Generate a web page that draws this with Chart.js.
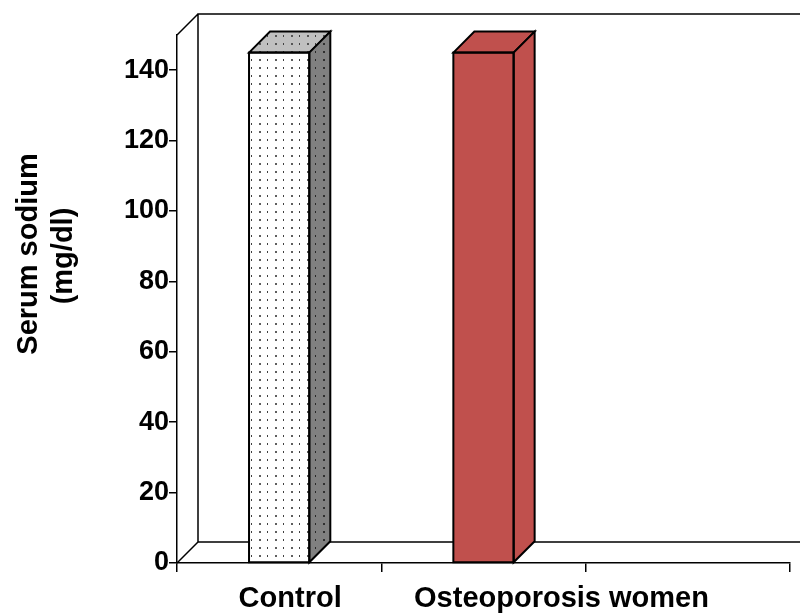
<!DOCTYPE html>
<html>
<head>
<meta charset="utf-8">
<script src="https://cdn.jsdelivr.net/npm/chart.js@4.4.1/dist/chart.umd.min.js"></script>
<style>
  html, body { margin: 0; padding: 0; background: #fff; }
  #wrap { width: 800px; height: 615px; position: relative; }
</style>
</head>
<body>
<div id="wrap"><canvas id="c" width="800" height="615"></canvas></div>
<script>
// Serum sodium by group
const categories = ['Control', 'Osteoporosis women', ''];
const sodiumValues = [145, 145, null];
const yTickValues = [0, 20, 40, 60, 80, 100, 120, 140];
const yAxisTitle = ['Serum sodium', '(mg/dl)'];

const FONT = '"Liberation Sans", Arial, sans-serif';
const DEPTH = 21;          // 3D depth offset in px
const LINE = 1.5;
const BAR_LINE = 2;

// dotted fill tiles
function dotPattern(bg, dotA, dotB) {
  const t = document.createElement('canvas');
  t.width = 16; t.height = 8;
  const g = t.getContext('2d');
  g.fillStyle = bg; g.fillRect(0, 0, 16, 8);
  g.fillStyle = dotA; g.fillRect(3, 3, 2, 2);
  g.fillStyle = dotB; g.fillRect(11, 3, 1, 2);
  return document.getElementById('c').getContext('2d').createPattern(t, 'repeat');
}
const frontFill = [dotPattern('#ffffff', '#5e5e5e', '#404040'), '#C0504D'];
const topFill   = [dotPattern('#c0c0c0', '#555555', '#404040'), '#C0504D'];
const sideFill  = [dotPattern('#808080', '#303030', '#282828'), '#C0504D'];

const labelShift = [11, 78];   // x-label offsets from category centre

const box3d = {
  id: 'box3d',
  beforeDatasetsDraw(chart) {
    const { ctx, chartArea: a } = chart;
    ctx.save();
    ctx.strokeStyle = '#000';
    ctx.lineWidth = LINE;
    ctx.beginPath();
    // back wall
    ctx.moveTo(a.left + DEPTH, a.bottom - DEPTH);
    ctx.lineTo(a.left + DEPTH, a.top - DEPTH);
    ctx.lineTo(a.right + DEPTH, a.top - DEPTH);
    // floor back edge
    ctx.moveTo(a.left + DEPTH, a.bottom - DEPTH);
    ctx.lineTo(a.right + DEPTH, a.bottom - DEPTH);
    // side wall / floor diagonals
    ctx.moveTo(a.left, a.top);
    ctx.lineTo(a.left + DEPTH, a.top - DEPTH);
    ctx.moveTo(a.left, a.bottom);
    ctx.lineTo(a.left + DEPTH, a.bottom - DEPTH);
    ctx.stroke();
    ctx.restore();
  },
  afterDatasetsDraw(chart) {
    const { ctx } = chart;
    const meta = chart.getDatasetMeta(0);
    ctx.save();
    ctx.strokeStyle = '#000';
    ctx.lineWidth = BAR_LINE;
    ctx.lineJoin = 'miter';
    meta.data.forEach((el, i) => {
      if (sodiumValues[i] == null) return;
      const { x, y, base, width } = el.getProps(['x', 'y', 'base', 'width'], true);
      const l = x - width / 2, r = x + width / 2;
      // top face
      ctx.beginPath();
      ctx.moveTo(l, y);
      ctx.lineTo(l + DEPTH, y - DEPTH);
      ctx.lineTo(r + DEPTH, y - DEPTH);
      ctx.lineTo(r, y);
      ctx.closePath();
      ctx.fillStyle = topFill[i];
      ctx.fill();
      ctx.stroke();
      // side face
      ctx.beginPath();
      ctx.moveTo(r, y);
      ctx.lineTo(r + DEPTH, y - DEPTH);
      ctx.lineTo(r + DEPTH, base - DEPTH);
      ctx.lineTo(r, base);
      ctx.closePath();
      ctx.fillStyle = sideFill[i];
      ctx.fill();
      ctx.stroke();
      // front outline
      ctx.strokeRect(l, y, width, base - y);
    });
    ctx.restore();
  },
  afterDraw(chart) {
    const { ctx } = chart;
    const xs = chart.scales.x;
    ctx.save();
    ctx.fillStyle = '#000';
    // category labels
    ctx.font = 'bold 29px ' + FONT;
    ctx.textAlign = 'center';
    ctx.textBaseline = 'alphabetic';
    labelShift.forEach((dx, i) => {
      ctx.fillText(categories[i], xs.getPixelForValue(i) + dx, 607);
    });
    // y-axis title
    ctx.font = 'bold 29px ' + FONT;
    ctx.save();
    ctx.translate(37, 254);
    ctx.rotate(-Math.PI / 2);
    ctx.fillText(yAxisTitle[0], 0, 0);
    ctx.restore();
    ctx.save();
    ctx.translate(72, 256);
    ctx.rotate(-Math.PI / 2);
    ctx.fillText(yAxisTitle[1], 0, 0);
    ctx.restore();
    ctx.restore();
  }
};

new Chart(document.getElementById('c'), {
  type: 'bar',
  data: {
    labels: categories,
    datasets: [{
      data: sodiumValues,
      backgroundColor: frontFill,
      borderWidth: 0,
      barPercentage: 0.295,
      categoryPercentage: 1.0
    }]
  },
  options: {
    responsive: false,
    animation: false,
    devicePixelRatio: 1,
    layout: { padding: { top: 35, right: 10, left: 0, bottom: 0 } },
    plugins: { legend: { display: false }, tooltip: { enabled: false } },
    scales: {
      x: {
        grid: { display: true, drawOnChartArea: false, drawTicks: true, tickLength: 9, color: '#000', lineWidth: LINE, offset: true },
        border: { display: true, color: '#000', width: LINE },
        ticks: { color: 'rgba(0,0,0,0)', font: { size: 12 } },
        afterFit(s) { s.height = 52; }
      },
      y: {
        min: 0,
        max: 150,
        afterBuildTicks(s) { s.ticks = yTickValues.map(v => ({ value: v })); },
        grid: { display: true, drawOnChartArea: false, drawTicks: true, tickLength: 8, color: '#000', lineWidth: LINE },
        border: { display: true, color: '#000', width: LINE },
        ticks: { color: '#000', padding: 0, font: { family: FONT, size: 27, weight: 'bold' } },
        afterFit(s) { s.width = 177; }
      }
    }
  },
  plugins: [box3d]
});
</script>
</body>
</html>
